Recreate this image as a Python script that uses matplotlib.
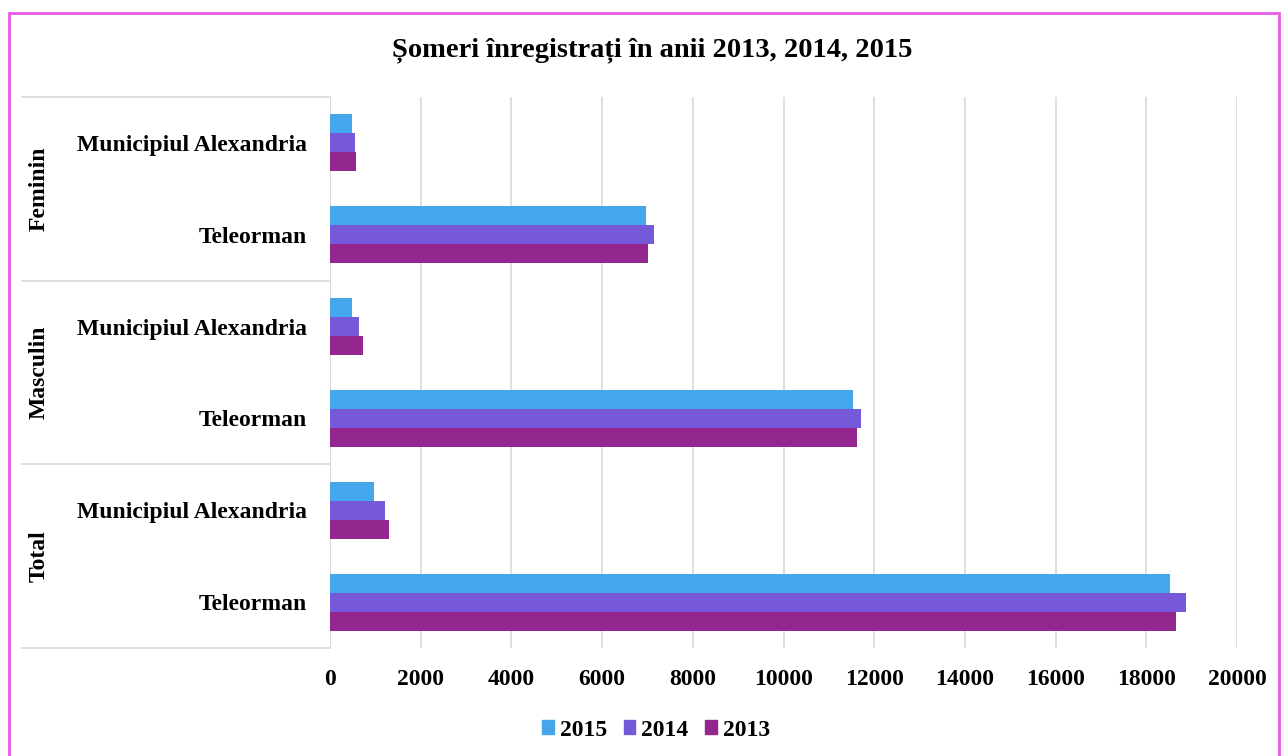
import numpy as np
import matplotlib.pyplot as plt
from matplotlib.patches import Rectangle, Patch

plt.rcParams['font.family'] = ['Liberation Serif', 'DejaVu Serif']
plt.rcParams['font.weight'] = 'bold'

# categorii de sus in jos
grupe = ['Feminin', 'Masculin', 'Total']
localitati = ['Municipiul Alexandria', 'Teleorman']
ani = ['2015', '2014', '2013']
culori = ['#45A6EC', '#7659D9', '#93278F']

# valori in ordinea: Fem/Alex, Fem/Tel, Masc/Alex, Masc/Tel, Total/Alex, Total/Tel
v2015 = [489, 6975, 481, 11543, 966, 18522]
v2014 = [555, 7151, 643, 11705, 1208, 18874]
v2013 = [577, 7012, 738, 11624, 1311, 18646]
valori = [v2015, v2014, v2013]

fig = plt.figure(figsize=(12.86, 7.56), dpi=100)
ax = fig.add_axes([330 / 1286, 1 - 648 / 756, 907 / 1286, 551 / 756])

n = len(grupe) * len(localitati)
y = np.arange(n)
h = 0.207
for k, (an, vals) in enumerate(zip(ani, valori)):
    ax.barh(y + (k - 1) * h, vals, height=h, color=culori[k], label=an, zorder=3)

ax.set_ylim(n - 0.5, -0.5)
ax.set_xlim(0, 20000)
ax.set_xticks(np.arange(0, 20001, 2000))
ax.set_yticks(y)
ax.set_yticklabels(localitati * len(grupe), fontsize=17, fontweight='bold')
ax.tick_params(axis='y', length=0, pad=16.5)
ax.tick_params(axis='x', length=0, pad=15, labelsize=17)
for lab in ax.get_xticklabels():
    lab.set_fontweight('bold')
ax.grid(axis='x', color='#D9D9D9', linewidth=1.2, zorder=0)
for s in ax.spines.values():
    s.set_visible(False)
ax.axvline(0, color='#D9D9D9', linewidth=1.5, zorder=2)

# linii de separare si etichete de grup
x0 = (22 - 330) / 907
for i in range(len(grupe) + 1):
    yy = i * len(localitati) - 0.5
    ax.plot([x0, 0], [yy, yy], transform=ax.get_yaxis_transform(),
            color='#D9D9D9', linewidth=1.2, clip_on=False)
for i, g in enumerate(grupe):
    ax.text((39 - 330) / 907, i * len(localitati) + 0.5, g,
            transform=ax.get_yaxis_transform(), rotation=90,
            ha='center', va='center', fontsize=17, fontweight='bold')

fig.text(652 / 1286, 1 - 50 / 756, 'Șomeri înregistrați în anii 2013, 2014, 2015',
         ha='center', va='center', fontsize=20.5, fontweight='bold')

handles = [Patch(color=c, label=a) for c, a in zip(culori, ani)]
fig.legend(handles=handles, loc='center', bbox_to_anchor=(656 / 1286, 1 - 730 / 756),
           ncol=3, frameon=False, handlelength=0.5, handleheight=0.5,
           handletextpad=0.25, columnspacing=0.7, prop={'weight': 'bold', 'size': 17})

fig.patches.append(Rectangle((9 / 1286, -0.01), 1270 / 1286, 1 - 13 / 756 + 0.01,
                             transform=fig.transFigure, fill=False,
                             edgecolor='#E85BE8', linewidth=2))

fig.savefig('out.png', dpi=100)
